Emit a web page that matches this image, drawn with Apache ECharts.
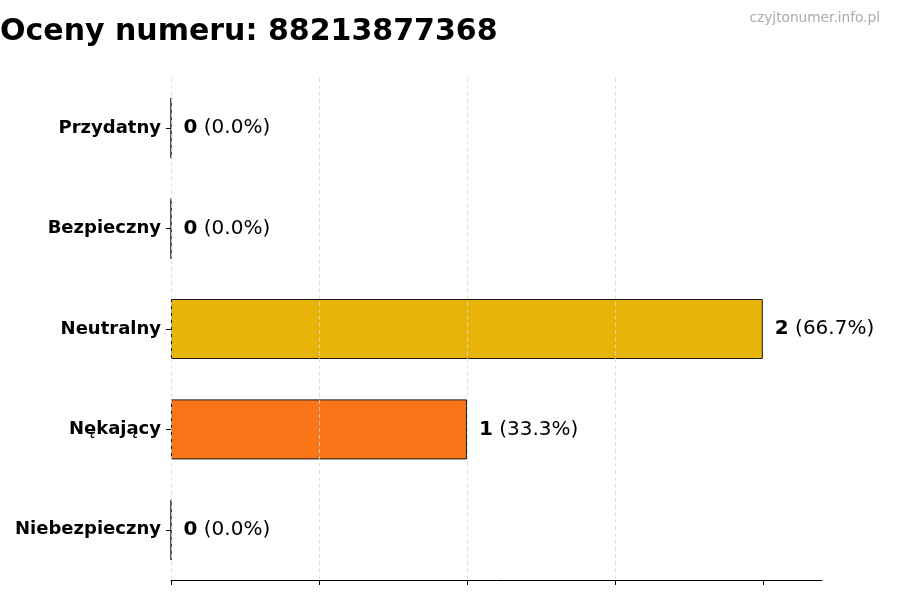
<!DOCTYPE html>
<html><head><meta charset="utf-8">
<script src="https://cdn.jsdelivr.net/npm/echarts@6/dist/echarts.min.js"></script>
<style>html,body{margin:0;padding:0;background:#fff}#c{width:900px;height:600px}</style>
</head><body><div id="c"></div>
<script>
const titleText = 'Oceny numeru: 88213877368';
const watermark = 'czyjtonumer.info.pl';
const categories = ['Przydatny', 'Bezpieczny', 'Neutralny', 'Nękający', 'Niebezpieczny'];
const counts = [0, 0, 2, 1, 0];
const percents = ['0.0', '0.0', '66.7', '33.3', '0.0'];
const colors = ['#22c55e', '#3b82f6', '#e8b408', '#f97518', '#dc2626'];
const xTicks = [0, 0.5, 1, 1.5, 2];

const chart = echarts.init(document.getElementById('c'), null, {renderer: 'canvas'});
const font = 'DejaVu Sans';
chart.setOption({
  animation: false,
  textStyle: {fontFamily: font},
  title: [
    {text: titleText, left: -5, top: 12, textStyle: {fontFamily: font, fontSize: 30, fontWeight: 'bold', color: '#000'}},
    {text: watermark, right: 15, top: 6, textStyle: {fontFamily: font, fontSize: 13.7, fontWeight: 'normal', color: '#aaaaaa'}}
  ],
  grid: {left: 171, right: 78, top: 78, bottom: 20, containLabel: false},
  xAxis: {
    type: 'value', min: 0, max: 2.2, interval: 0.5, z: 10,
    axisLine: {show: true, lineStyle: {color: '#000', width: 1}},
    axisTick: {show: true, length: 5, inside: false, lineStyle: {color: '#000'},
      customValues: xTicks},
    axisLabel: {show: false},
    splitLine: {show: true, showMaxLine: false, lineStyle: {type: [4, 3], color: '#d6d6d6', width: 0.8}}
  },
  yAxis: {
    type: 'category', data: categories, inverse: true,
    axisLine: {show: false},
    axisTick: {show: true, alignWithLabel: true, length: 5, lineStyle: {color: '#000'}},
    axisLabel: {fontFamily: font, fontSize: 18, fontWeight: 'bold', color: '#000', margin: 10}
  },
  series: [{
    type: 'bar', barWidth: 60, z: 2,
    data: counts.map((v, i) => ({value: v, itemStyle: {color: colors[i], borderColor: '#1a1a1a', borderWidth: 1}})),
    label: {
      show: true, position: 'right', distance: 12,
      formatter: p => '{b|' + counts[p.dataIndex] + '}{n| (' + percents[p.dataIndex] + '%)}',
      rich: {
        b: {fontFamily: font, fontSize: 20, fontWeight: 'bold', color: '#000'},
        n: {fontFamily: font, fontSize: 20, color: '#000'}
      }
    }
  }]
});
</script></body></html>
